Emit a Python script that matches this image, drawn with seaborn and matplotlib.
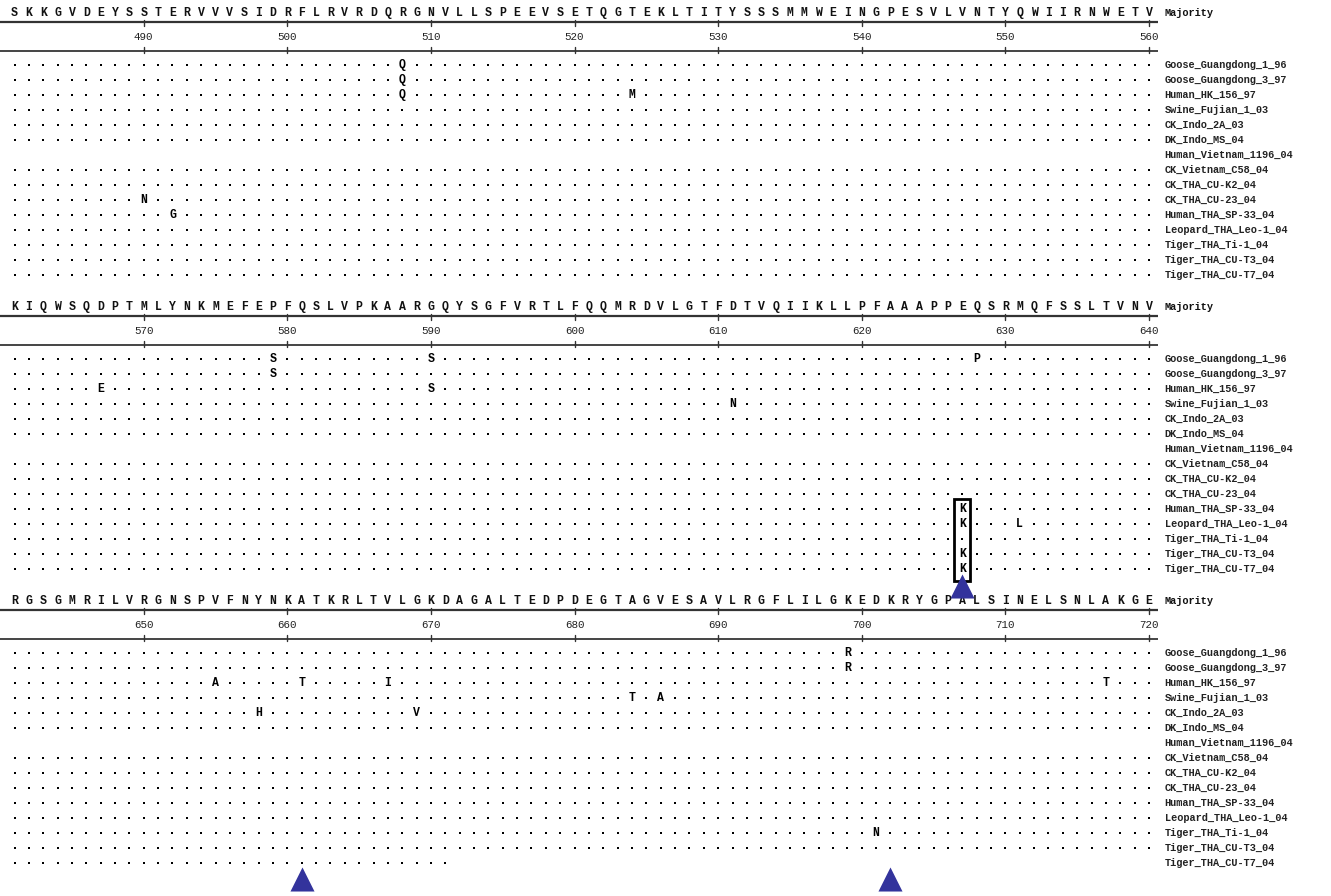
import matplotlib
matplotlib.use("Agg")
import matplotlib.pyplot as plt
from matplotlib.patches import Rectangle
import pandas as pd
import seaborn as sns

# PB2 residues 481-720, shown as three blocks of 80 columns
block_starts = [481, 561, 641]
majority = [
    "SKKGVDEYSSTERVVVSIDRFLRVRDQRGNVLLSPEEVSETQGTEKLTITYSSSMMWEINGPESVLVNTYQWIIRNWETV",
    "KIQWSQDPTMLYNKMEFEPFQSLVPKAARGQYSGFVRTLFQQMRDVLGTFDTVQIIKLLPFAAAPPEQSRMQFSSLTVNV",
    "RGSGMRILVRGNSPVFNYNKATKRLTVLGKDAGALTEDPDEGTAGVESAVLRGFLILGKEDKRYGPALSINELSNLAKGE",
]

strains = [
    "Goose_Guangdong_1_96", "Goose_Guangdong_3_97", "Human_HK_156_97",
    "Swine_Fujian_1_03", "CK_Indo_2A_03", "DK_Indo_MS_04",
    "Human_Vietnam_1196_04", "CK_Vietnam_C58_04", "CK_THA_CU-K2_04",
    "CK_THA_CU-23_04", "Human_THA_SP-33_04", "Leopard_THA_Leo-1_04",
    "Tiger_THA_Ti-1_04", "Tiger_THA_CU-T3_04", "Tiger_THA_CU-T7_04",
]

# residues that differ from the majority, per strain
substitutions = {
    "Goose_Guangdong_1_96": {508: "Q", 579: "S", 590: "S", 628: "P", 699: "R"},
    "Goose_Guangdong_3_97": {508: "Q", 579: "S", 699: "R"},
    "Human_HK_156_97": {508: "Q", 524: "M", 567: "E", 590: "S",
                        655: "A", 661: "T", 667: "I", 717: "T"},
    "Swine_Fujian_1_03": {611: "N", 684: "T", 686: "A"},
    "CK_Indo_2A_03": {658: "H", 669: "V"},
    "CK_THA_CU-23_04": {490: "N"},
    "Human_THA_SP-33_04": {492: "G", 627: "K"},
    "Leopard_THA_Leo-1_04": {627: "K", 631: "L"},
    "Tiger_THA_Ti-1_04": {701: "N"},
    "Tiger_THA_CU-T3_04": {627: "K"},
    "Tiger_THA_CU-T7_04": {627: "K"},
}

# strains with no sequence in this region, and partial sequences (last residue)
missing_strains = ["Human_Vietnam_1196_04"]
sequence_end = {"Tiger_THA_CU-T7_04": 671}

# highlighted sites
marked_sites = [627, 661, 702]
boxed_site = 627
boxed_strains = ["Human_THA_SP-33_04", "Leopard_THA_Leo-1_04", "Tiger_THA_Ti-1_04",
                 "Tiger_THA_CU-T3_04", "Tiger_THA_CU-T7_04"]

# ---- layout (pixels) ----
PITCH = 14.36
X0 = 14.5
BLOCK_Y = [13, 307, 601]
ROW0 = 52
ROW_STEP = 15.0
LABEL_COL = 80.1
W, H = 1331, 896

sns.set_theme(style="white")
plt.rcParams["font.family"] = ["Liberation Mono", "DejaVu Sans Mono"]

fig = plt.figure(figsize=(W / 100, H / 100), dpi=100)
ax = fig.add_axes([0, 0, 1, 1])
ax.set_xlim(-X0 / PITCH, (W - X0) / PITCH)
ax.set_ylim(H, 0)
ax.axis("off")


def col_of(pos):
    for b, s in enumerate(block_starts):
        if s <= pos < s + 80:
            return b, pos - s
    return None, None


def row_y(b, r):
    return BLOCK_Y[b] + ROW0 + r * ROW_STEP


# identity dots
dots = []
for b, start in enumerate(block_starts):
    for r, name in enumerate(strains):
        if name in missing_strains:
            continue
        subs = substitutions.get(name, {})
        last = sequence_end.get(name, 10**6)
        for c in range(80):
            pos = start + c
            if pos in subs or pos > last:
                continue
            dots.append({"x": c, "y": row_y(b, r)})
dots = pd.DataFrame(dots)
sns.scatterplot(data=dots, x="x", y="y", marker="s", s=4.2, color="black",
                linewidth=0, ax=ax, legend=False)

# substituted residues
for r, name in enumerate(strains):
    for pos, aa in substitutions.get(name, {}).items():
        b, c = col_of(pos)
        ax.text(c, row_y(b, r), aa, ha="center", va="center", fontsize=8.3,
                fontweight="bold", color="black")

for b, start in enumerate(block_starts):
    yb = BLOCK_Y[b]
    # majority sequence
    for c, aa in enumerate(majority[b]):
        ax.text(c, yb, aa, ha="center", va="center", fontsize=8.3,
                fontweight="bold", color="#111111")
    ax.text(LABEL_COL, yb, "Majority", ha="left", va="center", fontsize=7.4,
            fontweight="bold", color="#111111")
    # ruler
    ax.plot([-1.0, 79.6], [yb + 9, yb + 9], color="#333333", lw=1.6,
            solid_capstyle="butt")
    ax.plot([-1.0, 79.6], [yb + 38, yb + 38], color="#444444", lw=1.4,
            solid_capstyle="butt")
    for c in range(9, 80, 10):
        ax.plot([c, c], [yb + 7, yb + 13], color="#333333", lw=1.0)
        ax.plot([c, c], [yb + 34, yb + 40], color="#333333", lw=1.0)
        ax.text(c, yb + 24, str(start + c), ha="center", va="center",
                fontsize=7.8, color="#222222")
    # strain names
    for r, name in enumerate(strains):
        ax.text(LABEL_COL, row_y(b, r), name, ha="left", va="center",
                fontsize=7.4, fontweight="bold", color="#222222")

# box around the site 627 residues of the Thai isolates
bb, bc = col_of(boxed_site)
rows = [strains.index(n) for n in boxed_strains]
y_top = row_y(bb, min(rows)) - 10
y_bot = row_y(bb, max(rows)) + 12
ax.add_patch(Rectangle((bc - 0.55, y_top), 1.1, y_bot - y_top, fill=False,
                       edgecolor="black", lw=2.0, zorder=5))

# triangles under the marked sites
tri = []
for pos in marked_sites:
    b, c = col_of(pos)
    y = row_y(b, len(strains) - 1) + (17 if b == 1 else 16)
    tri.append({"x": c, "y": y})
tri = pd.DataFrame(tri)
sns.scatterplot(data=tri, x="x", y="y", marker="^", s=300, color="#33339c",
                linewidth=0, ax=ax, legend=False, zorder=6)

fig.savefig("out.png", dpi=100, facecolor="white")
